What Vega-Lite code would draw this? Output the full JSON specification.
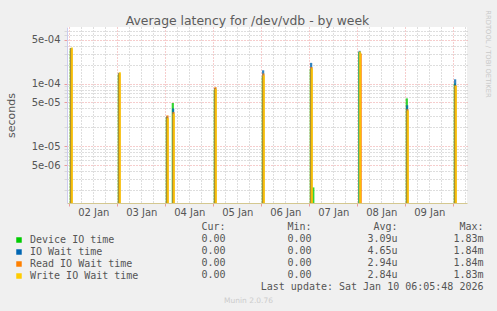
{
  "$schema": "https://vega.github.io/schema/vega-lite/v6.json",
  "width": 400,
  "height": 176,
  "autosize": {"type": "none"},
  "padding": {"left": 67, "top": 27, "right": 30, "bottom": 108},
  "background": "#F0F0F0",
  "config": {"view": {"fill": "#FFFFFF", "stroke": null}, "font": "DejaVu Sans"},
  "title": {"text": "Average latency for /dev/vdb - by week", "fontSize": 12.4, "fontWeight": "normal", "color": "#5c5c5c", "font": "DejaVu Sans", "anchor": "middle", "dx": -19.5, "dy": 21.5, "offset": 4},
  "datasets": {
    "spikes": [
      {"time": "2026-01-02T00:45", "series": "Device IO time", "latency": 3.5e-4},
      {"time": "2026-01-03T00:45", "series": "Device IO time", "latency": 1.4e-4},
      {"time": "2026-01-04T00:45", "series": "Device IO time", "latency": 2.9e-5},
      {"time": "2026-01-04T03:45", "series": "Device IO time", "latency": 4.9e-5},
      {"time": "2026-01-05T00:45", "series": "Device IO time", "latency": 8.0e-5},
      {"time": "2026-01-06T00:45", "series": "Device IO time", "latency": 1.3e-4},
      {"time": "2026-01-07T00:45", "series": "Device IO time", "latency": 1.7e-4},
      {"time": "2026-01-07T02:00", "series": "Device IO time", "latency": 2.2e-6},
      {"time": "2026-01-08T01:00", "series": "Device IO time", "latency": 3.2e-4},
      {"time": "2026-01-09T00:45", "series": "Device IO time", "latency": 5.8e-5},
      {"time": "2026-01-10T00:45", "series": "Device IO time", "latency": 1.0e-4},
      {"time": "2026-01-02T00:55", "series": "IO Wait time", "latency": 3.7e-4},
      {"time": "2026-01-03T00:55", "series": "IO Wait time", "latency": 1.48e-4},
      {"time": "2026-01-04T00:55", "series": "IO Wait time", "latency": 3.0e-5},
      {"time": "2026-01-04T03:55", "series": "IO Wait time", "latency": 4.0e-5},
      {"time": "2026-01-05T00:55", "series": "IO Wait time", "latency": 8.5e-5},
      {"time": "2026-01-06T00:55", "series": "IO Wait time", "latency": 1.63e-4},
      {"time": "2026-01-07T00:55", "series": "IO Wait time", "latency": 2.14e-4},
      {"time": "2026-01-08T01:10", "series": "IO Wait time", "latency": 3.33e-4},
      {"time": "2026-01-09T00:55", "series": "IO Wait time", "latency": 4.5e-5},
      {"time": "2026-01-10T00:55", "series": "IO Wait time", "latency": 1.17e-4},
      {"time": "2026-01-02T01:05", "series": "Read IO Wait time", "latency": 3.6e-4},
      {"time": "2026-01-03T01:05", "series": "Read IO Wait time", "latency": 1.45e-4},
      {"time": "2026-01-04T01:05", "series": "Read IO Wait time", "latency": 3.11e-5},
      {"time": "2026-01-04T04:05", "series": "Read IO Wait time", "latency": 3.51e-5},
      {"time": "2026-01-05T01:05", "series": "Read IO Wait time", "latency": 8.8e-5},
      {"time": "2026-01-06T01:05", "series": "Read IO Wait time", "latency": 1.45e-4},
      {"time": "2026-01-07T01:05", "series": "Read IO Wait time", "latency": 1.84e-4},
      {"time": "2026-01-08T01:45", "series": "Read IO Wait time", "latency": 3.02e-4},
      {"time": "2026-01-09T01:05", "series": "Read IO Wait time", "latency": 3.9e-5},
      {"time": "2026-01-10T01:05", "series": "Read IO Wait time", "latency": 9.4e-5},
      {"time": "2026-01-02T01:15", "series": "Write IO Wait time", "latency": 3.77e-4},
      {"time": "2026-01-03T01:15", "series": "Write IO Wait time", "latency": 1.52e-4},
      {"time": "2026-01-04T01:15", "series": "Write IO Wait time", "latency": 2.8e-5},
      {"time": "2026-01-04T04:15", "series": "Write IO Wait time", "latency": 3.3e-5},
      {"time": "2026-01-05T01:15", "series": "Write IO Wait time", "latency": 8.2e-5},
      {"time": "2026-01-06T01:15", "series": "Write IO Wait time", "latency": 1.35e-4},
      {"time": "2026-01-07T01:15", "series": "Write IO Wait time", "latency": 1.75e-4},
      {"time": "2026-01-08T01:20", "series": "Write IO Wait time", "latency": 3.25e-4},
      {"time": "2026-01-09T01:15", "series": "Write IO Wait time", "latency": 3.7e-5},
      {"time": "2026-01-10T01:15", "series": "Write IO Wait time", "latency": 9.2e-5}
    ],
    "table": [
      {"row": "hdr", "col": "Cur", "text": "Cur:\u00a0\u00a0"},
      {"row": "hdr", "col": "Min", "text": "Min:\u00a0\u00a0"},
      {"row": "hdr", "col": "Avg", "text": "Avg:\u00a0\u00a0"},
      {"row": "hdr", "col": "Max", "text": "Max:\u00a0\u00a0"},
      {"row": "Device IO time", "col": "Cur", "text": "0.00\u00a0"},
      {"row": "Device IO time", "col": "Min", "text": "0.00\u00a0"},
      {"row": "Device IO time", "col": "Avg", "text": "3.09u"},
      {"row": "Device IO time", "col": "Max", "text": "1.83m"},
      {"row": "IO Wait time", "col": "Cur", "text": "0.00\u00a0"},
      {"row": "IO Wait time", "col": "Min", "text": "0.00\u00a0"},
      {"row": "IO Wait time", "col": "Avg", "text": "4.65u"},
      {"row": "IO Wait time", "col": "Max", "text": "1.84m"},
      {"row": "Read IO Wait time", "col": "Cur", "text": "0.00\u00a0"},
      {"row": "Read IO Wait time", "col": "Min", "text": "0.00\u00a0"},
      {"row": "Read IO Wait time", "col": "Avg", "text": "2.94u"},
      {"row": "Read IO Wait time", "col": "Max", "text": "1.84m"},
      {"row": "Write IO Wait time", "col": "Cur", "text": "0.00\u00a0"},
      {"row": "Write IO Wait time", "col": "Min", "text": "0.00\u00a0"},
      {"row": "Write IO Wait time", "col": "Avg", "text": "2.84u"},
      {"row": "Write IO Wait time", "col": "Max", "text": "1.83m"},
      {"row": "last", "col": "Max", "text": "Last update: Sat Jan 10 06:05:48 2026"}
    ]
  },
  "layer": [
    {
      "data": {"name": "spikes"},
      "mark": {"type": "bar", "width": 2.2, "opacity": 0.8},
      "encoding": {
        "x": {
          "field": "time", "type": "temporal",
          "scale": {"nice": false, "padding": 0, "domain": [{"year": 2026, "month": 1, "date": 1, "hours": 22, "minutes": 51}, {"year": 2026, "month": 1, "date": 10, "hours": 6, "minutes": 51}]},
          "axis": {
            "values": [
              {"year": 2026, "month": 1, "date": 2, "hours": 0}, {"year": 2026, "month": 1, "date": 2, "hours": 6}, {"year": 2026, "month": 1, "date": 2, "hours": 12}, {"year": 2026, "month": 1, "date": 2, "hours": 18},
              {"year": 2026, "month": 1, "date": 3, "hours": 0}, {"year": 2026, "month": 1, "date": 3, "hours": 6}, {"year": 2026, "month": 1, "date": 3, "hours": 12}, {"year": 2026, "month": 1, "date": 3, "hours": 18},
              {"year": 2026, "month": 1, "date": 4, "hours": 0}, {"year": 2026, "month": 1, "date": 4, "hours": 6}, {"year": 2026, "month": 1, "date": 4, "hours": 12}, {"year": 2026, "month": 1, "date": 4, "hours": 18},
              {"year": 2026, "month": 1, "date": 5, "hours": 0}, {"year": 2026, "month": 1, "date": 5, "hours": 6}, {"year": 2026, "month": 1, "date": 5, "hours": 12}, {"year": 2026, "month": 1, "date": 5, "hours": 18},
              {"year": 2026, "month": 1, "date": 6, "hours": 0}, {"year": 2026, "month": 1, "date": 6, "hours": 6}, {"year": 2026, "month": 1, "date": 6, "hours": 12}, {"year": 2026, "month": 1, "date": 6, "hours": 18},
              {"year": 2026, "month": 1, "date": 7, "hours": 0}, {"year": 2026, "month": 1, "date": 7, "hours": 6}, {"year": 2026, "month": 1, "date": 7, "hours": 12}, {"year": 2026, "month": 1, "date": 7, "hours": 18},
              {"year": 2026, "month": 1, "date": 8, "hours": 0}, {"year": 2026, "month": 1, "date": 8, "hours": 6}, {"year": 2026, "month": 1, "date": 8, "hours": 12}, {"year": 2026, "month": 1, "date": 8, "hours": 18},
              {"year": 2026, "month": 1, "date": 9, "hours": 0}, {"year": 2026, "month": 1, "date": 9, "hours": 6}, {"year": 2026, "month": 1, "date": 9, "hours": 12}, {"year": 2026, "month": 1, "date": 9, "hours": 18},
              {"year": 2026, "month": 1, "date": 10, "hours": 0}, {"year": 2026, "month": 1, "date": 10, "hours": 6}
            ],
            "grid": true,
            "gridColor": {"condition": {"test": "hours(datum.value) == 0", "value": "#EC9A9A"}, "value": "#BDBDBD"},
            "gridDash": [1, 2],
            "tickColor": {"condition": {"test": "hours(datum.value) == 0", "value": "#EC9A9A"}, "value": "transparent"},
            "tickSize": 3,
            "labelExpr": "hours(datum.value) == 0 && date(datum.value) != 10 ? timeFormat(datum.value, '%d %b') : ''",
            "labelOffset": 24,
            "labelOverlap": false,
            "labelFlush": false,
            "labelBound": false,
            "labelPadding": 1,
            "labelFontSize": 10,
            "labelColor": "#555555",
            "domainColor": "#D4C890",
            "title": "Munin 2.0.76",
            "titleFontSize": 7.5,
            "titleColor": "#CCCCCC",
            "titleFontWeight": "normal",
            "titleX": 181,
            "titleY": 97,
            "titleAlign": "center",
            "titleBaseline": "middle"
          }
        },
        "y": {
          "field": "latency", "type": "quantitative",
          "scale": {"type": "log", "domain": [1.24e-6, 8e-4], "nice": false, "padding": 0},
          "axis": {
            "values": [2e-6, 3e-6, 4e-6, 5e-6, 6e-6, 7e-6, 8e-6, 9e-6, 1e-5, 2e-5, 3e-5, 4e-5, 5e-5, 6e-5, 7e-5, 8e-5, 9e-5, 1e-4, 2e-4, 3e-4, 4e-4, 5e-4, 6e-4, 7e-4],
            "grid": true,
            "gridColor": {"condition": {"test": "indexof([5e-6, 1e-5, 5e-5, 1e-4, 5e-4], datum.value) >= 0", "value": "#EC9A9A"}, "value": "#BDBDBD"},
            "gridDash": [1, 2],
            "tickColor": {"condition": {"test": "indexof([5e-6, 1e-5, 5e-5, 1e-4, 5e-4], datum.value) >= 0", "value": "#EC9A9A"}, "value": "#D8D8D8"},
            "tickSize": 3,
            "labelExpr": "indexof([5e-6, 1e-5, 5e-5, 1e-4, 5e-4], datum.value) >= 0 ? replace(format(datum.value, '.0e'), 'e-', 'e-0') : ''",
            "labelOverlap": false,
            "labelPadding": 4,
            "labelFontSize": 10,
            "labelColor": "#555555",
            "domainColor": "#CCCCEE",
            "title": "seconds",
            "titleFontSize": 11,
            "titleFontWeight": "normal",
            "titleColor": "#555555",
            "titleX": -56,
            "titleY": 88,
            "titleAngle": 270,
            "titleAlign": "center",
            "titleBaseline": "middle"
          }
        },
        "y2": {"datum": 1.24e-6},
        "color": {
          "field": "series", "type": "nominal",
          "scale": {"domain": ["Device IO time", "IO Wait time", "Read IO Wait time", "Write IO Wait time"], "range": ["#00CC00", "#0066B3", "#FF8000", "#FFCC00"]},
          "legend": {
            "orient": "none", "legendX": -53, "legendY": 208, "title": null, "direction": "vertical",
            "symbolType": "square", "symbolSize": 30, "symbolStrokeWidth": 0, "symbolOpacity": 1,
            "labelFont": "DejaVu Sans Mono", "labelFontSize": 10, "labelColor": "#555555",
            "labelOffset": 6, "rowPadding": 2, "padding": 0
          }
        }
      }
    },
    {
      "data": {"name": "table"},
      "mark": {"type": "text", "align": "right", "baseline": "middle", "font": "DejaVu Sans Mono", "fontSize": 10, "color": "#555555"},
      "encoding": {
        "x": {"field": "col", "type": "nominal", "scale": {"type": "point", "domain": ["Cur", "Min", "Avg", "Max"], "range": [158.5, 416.5], "padding": 0}, "axis": null},
        "y": {
          "field": "row", "type": "nominal",
          "scale": {"type": "point", "domain": ["hdr", "Device IO time", "IO Wait time", "Read IO Wait time", "Write IO Wait time", "last"], "range": [200, 260], "padding": 0},
          "axis": {
            "orient": "right", "domain": false, "ticks": false, "labels": false, "grid": false,
            "title": "RRDTOOL / TOBI OETIKER", "titleAngle": 90, "titleFontSize": 6.8, "titleColor": "#C8C8C8",
            "titleFontWeight": "normal", "titleX": 20, "titleY": 26.5, "titleAlign": "center", "titleBaseline": "middle"
          }
        },
        "text": {"field": "text"}
      }
    }
  ],
  "resolve": {"scale": {"x": "independent", "y": "independent"}}
}
